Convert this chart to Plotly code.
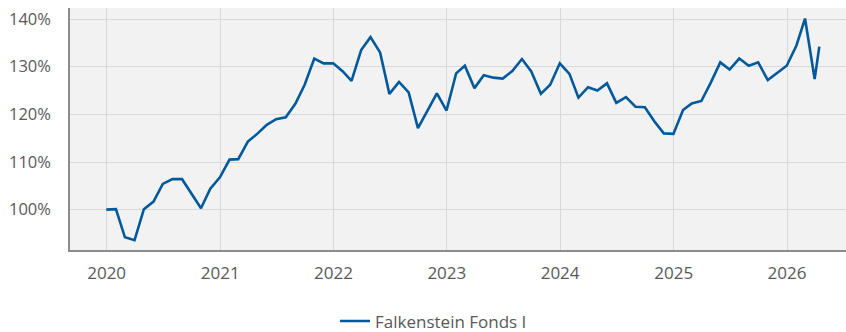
import pandas as pd
import plotly.graph_objects as go

# Month-end dates from Dec 2019 to Mar 2026, plus the latest mid-April value
dates = list(pd.date_range("2019-12-31", "2026-03-31", freq="ME")) + [pd.Timestamp("2026-04-15")]

# Indexed performance (start = 100 %)
values = [
    100.0,
    100.1, 94.2, 93.6, 100.1, 101.7, 105.4, 106.4, 106.4, 103.4, 100.3, 104.4, 106.8,
    110.5, 110.6, 114.3, 115.9, 117.8, 119.0, 119.4, 122.2, 126.2, 131.7, 130.7, 130.7,
    129.0, 127.0, 133.5, 136.2, 133.0, 124.3, 126.8, 124.6, 117.1, 120.7, 124.4, 120.8,
    128.6, 130.2, 125.5, 128.2, 127.7, 127.5, 129.1, 131.6, 129.0, 124.3, 126.2, 130.7,
    128.5, 123.5, 125.7, 125.0, 126.5, 122.4, 123.6, 121.6, 121.5, 118.5, 116.0, 115.9,
    120.9, 122.3, 122.8, 126.6, 130.9, 129.4, 131.7, 130.2, 130.9, 127.2, 128.7, 130.2,
    134.4, 140.1, 127.4, 134.2,
]

series_name = "Falkenstein Fonds I"
y_ticks = [100, 110, 120, 130, 140]
y_tick_labels = [f"{v}%" for v in y_ticks]

text_color = "#595959"
grid_color = "#d9d9d9"
axis_color = "#8c8c8c"
line_color = "#00599b"

fig = go.Figure(
    go.Scatter(
        x=dates,
        y=values,
        mode="lines",
        name=series_name,
        line=dict(color=line_color, width=2.6),
    )
)

fig.update_layout(
    width=846,
    height=332,
    autosize=False,
    margin=dict(l=70, r=0, t=8, b=82, autoexpand=False),
    paper_bgcolor="white",
    plot_bgcolor="#f2f2f2",
    font=dict(family="Open Sans", size=16, color=text_color),
    showlegend=True,
    legend=dict(
        orientation="h",
        x=0.3415,
        xanchor="left",
        y=-0.295,
        yanchor="middle",
        font=dict(size=17, color=text_color),
    ),
)

fig.update_xaxes(
    type="date",
    range=["2019-09-05", "2026-07-10"],
    dtick="M12",
    tick0="2020-01-01",
    tickformat="%Y",
    tickangle=0,
    tickfont=dict(size=17),
    showgrid=True,
    gridcolor=grid_color,
    gridwidth=1,
    showline=True,
    linecolor=axis_color,
    linewidth=1.5,
    ticks="",
    ticklabelstandoff=7,
    zeroline=False,
    automargin=False,
)

fig.update_yaxes(
    range=[91.54, 142.31],
    tickvals=y_ticks,
    ticktext=y_tick_labels,
    tickfont=dict(size=16.5),
    showgrid=True,
    gridcolor=grid_color,
    gridwidth=1,
    showline=True,
    linecolor=axis_color,
    linewidth=1.5,
    ticks="",
    ticklabelstandoff=14,
    zeroline=False,
    automargin=False,
)

fig.write_html("out.html")
